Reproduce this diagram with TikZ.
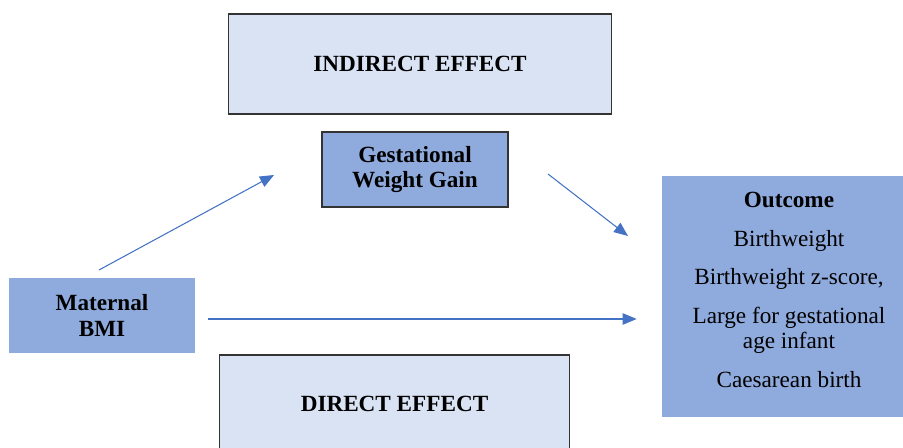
\documentclass[tikz,border=0pt]{standalone}
\usepackage{fontspec}
\setmainfont{Liberation Serif}
\usetikzlibrary{arrows.meta}
\definecolor{paleblue}{HTML}{DAE3F3}
\definecolor{midblue}{HTML}{8FAADC}
\definecolor{arrowblue}{HTML}{4472C4}
\begin{document}
\begin{tikzpicture}[x=0.02cm,y=-0.02cm,
    effect/.style={draw=black!80,line width=0.6pt,fill=paleblue,inner sep=0pt,
      font=\fontsize{13.2pt}{14.4pt}\selectfont\bfseries},
    var/.style={fill=midblue,inner sep=0pt,align=center,
      font=\fontsize{13.2pt}{14.4pt}\selectfont\bfseries},
    link/.style={arrowblue,line width=0.6pt,-{Triangle[length=8pt,width=6.5pt]}}]
    \clip (0,0) rectangle (903,448);
    \node[effect,minimum width=7.68cm,minimum height=2cm] (indirect) at (420,64) {INDIRECT EFFECT};
    \node[effect,minimum width=7.02cm,minimum height=1.96cm] (direct) at (394.5,404) {DIRECT EFFECT};
    \node[var,draw=black!80,line width=0.6pt,minimum width=3.72cm,minimum height=1.5cm] (gwg) at (415,169.5) {Gestational\\Weight Gain};
    \node[var,minimum width=3.72cm,minimum height=1.5cm] (bmi) at (102,315.5) {Maternal\\BMI};
    \node[var,minimum width=5.08cm,minimum height=4.82cm] (outcome) at (789,296.5) {};
    \node[var,fill=none] (outcomes) at (789,290)
      {Outcome\\[7.5pt]\normalfont Birthweight\\[7.5pt]\normalfont Birthweight z-score,\\[7.5pt]
       \normalfont Large for gestational\\\normalfont age infant\\[7.5pt]\normalfont Caesarean birth};
    % arrow ends
    \coordinate (a) at (99,270);
    \coordinate (b) at (274,175);
    \coordinate (c) at (548,174);
    \coordinate (d) at (628,236);
    \draw[link] (a) -- (b);
    \draw[link] (c) -- (d);
    \draw[link,shorten <=13pt*0.569,shorten >=25pt*0.569] (bmi.east |- 0,319) -- (outcome.west |- 0,319);
  \end{tikzpicture}
\end{document}
